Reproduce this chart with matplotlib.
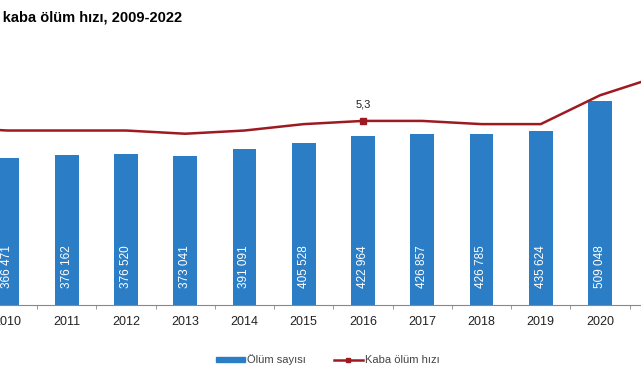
import matplotlib.pyplot as plt
from matplotlib.patches import Patch
from matplotlib.lines import Line2D

plt.rcParams['font.family'] = ['Liberation Sans', 'DejaVu Sans']

years = ['2009', '2010', '2011', '2012', '2013', '2014', '2015', '2016',
         '2017', '2018', '2019', '2020', '2021', '2022']
deaths = [368390, 366471, 376162, 376520, 373041, 391091, 405528, 422964,
          426857, 426785, 435624, 509048, 565611, 505269]
rate = [5.1, 5.0, 5.0, 5.0, 4.9, 5.0, 5.2, 5.3, 5.3, 5.2, 5.2, 6.1, 6.7, 5.9]
rate_label_idx = 7  # only 2016 is labelled in the crop

bar_col = '#2B7DC5'
line_col = '#9E1A22'

W, H = 641, 380
fig = plt.figure(figsize=(W / 100, H / 100), dpi=100)

# the picture is a crop of a wider chart, so the axes run past both edges
x0, slot = -81.4, 59.25
ax = fig.add_axes([x0 / W, (H - 305) / H, slot * len(years) / W, 275 / H])
x = list(range(len(years)))

ax.bar(x, deaths, width=0.4, color=bar_col, zorder=2)
for xi, d in zip(x, deaths):
    # only the bars that fall inside the crop carry a label
    if not (0 < x0 + slot * (xi + 0.5) < W):
        continue
    s = f'{d:,}'.replace(',', ' ')
    ax.text(xi, 95000, s, rotation=90, ha='center', va='center',
            color='white', fontsize=8.5, zorder=3)

ax.set_xlim(-0.5, len(years) - 0.5)
ax.set_ylim(0, 687500)
ax.set_xticks(x)
ax.set_xticklabels(years, fontsize=9, color='#222222')
ax.set_xticks([i + 0.5 for i in x[:-1]], minor=True)
ax.tick_params(axis='x', which='major', length=0, pad=8)
ax.tick_params(axis='x', which='minor', length=3, color='#888888', direction='out')
ax.set_yticks([])
for s in ['top', 'left', 'right']:
    ax.spines[s].set_visible(False)
ax.spines['bottom'].set_color('#888888')

ax2 = ax.twinx()
ax2.plot(x, rate, color=line_col, lw=1.8, marker='s', markersize=4.5,
         markevery=[rate_label_idx], zorder=4)
ax2.set_ylim(-0.45, 8.14)
ax2.annotate(f'{rate[rate_label_idx]:.1f}'.replace('.', ','),
             (rate_label_idx, rate[rate_label_idx]), xytext=(0, 10),
             textcoords='offset points', ha='center', fontsize=8, color='#222222')
ax2.axis('off')

fig.text(182 / W, 1 - 17 / H, 'Ölüm sayısı ve kaba ölüm hızı, 2009-2022',
         ha='right', va='center', fontsize=10.5, fontweight='bold')

handles = [Patch(color=bar_col),
           Line2D([], [], color=line_col, lw=1.8, marker='s', markersize=3)]
fig.legend(handles, ['Ölüm sayısı', 'Kaba ölüm hızı'], loc='center',
           bbox_to_anchor=(328 / W, 1 - 360 / H), ncol=2, frameon=False,
           fontsize=8, handlelength=2.6, handleheight=0.4, handletextpad=0.2,
           columnspacing=2.5, labelcolor='#444444')

fig.savefig('out.png', dpi=100)
